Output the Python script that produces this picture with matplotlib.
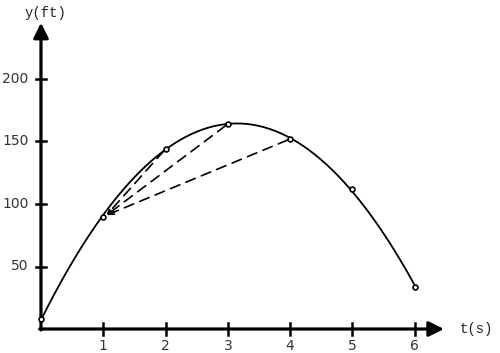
import numpy as np
import matplotlib
matplotlib.use("Agg")
import matplotlib.pyplot as plt

# height of the ball at each second
t = np.array([0, 1, 2, 3, 4, 5, 6])
y = np.array([8, 90, 144, 164, 152, 112, 34])

# secant lines from t=1 to these times
sec_from = 1
sec_to = [2, 3, 4]

xticks = [1, 2, 3, 4, 5, 6]
yticks = [50, 100, 150, 200]

fig = plt.figure(figsize=(5.0, 3.53), dpi=100)
ax = fig.add_axes([0, 0, 1, 1])
ax.set_xlim(-0.658, 7.37)
ax.set_ylim(-19.2, 263.2)
ax.axis("off")

# axes with arrow heads
arrow = dict(arrowstyle="-|>,head_length=0.9,head_width=0.45", lw=2.3,
             color="black", shrinkA=0, shrinkB=0)
ax.annotate("", xy=(6.47, 0), xytext=(-0.02, 0), arrowprops=arrow)
ax.annotate("", xy=(0, 245), xytext=(0, -0.8), arrowprops=arrow)

# ticks
for xt in xticks:
    ax.plot([xt, xt], [-5, 5], color="black", lw=1.8)
    ax.text(xt, -13.3, str(xt), ha="center", va="center", fontsize=10,
            family="DejaVu Sans", color="#333333")
for yt in yticks:
    ax.plot([-0.08, 0.08], [yt, yt], color="black", lw=1.8)
    ax.text(-0.2, yt, str(yt), ha="right", va="center", fontsize=10,
            family="DejaVu Sans", color="#333333")

ax.text(0.08, 253, "y(ft)", ha="center", va="center", fontsize=10,
        family="Liberation Mono", color="#222222")
ax.text(7.0, 0, "t(s)", ha="center", va="center", fontsize=10,
        family="Liberation Mono", color="#222222")

# smooth curve through the points (quadratic fit of the read values)
coef = np.polyfit(t, y, 2)
tt = np.linspace(t.min(), t.max(), 200)
ax.plot(tt, np.polyval(coef, tt), color="black", lw=1.3)
ax.plot(t, y, "o", ms=3.5, mfc="white", mec="black", mew=1.2, zorder=5)

# dashed secants with small arrow heads at t=1
i0 = list(t).index(sec_from)
for s in sec_to:
    j = list(t).index(s)
    ax.annotate("", xy=(t[i0] + 0.05, y[i0] + 1), xytext=(t[j], y[j]),
                arrowprops=dict(arrowstyle="->,head_length=0.4,head_width=0.15",
                                lw=1.2, ls=(0, (6, 4)), color="black",
                                shrinkA=2, shrinkB=0))

fig.savefig("out.png", dpi=100)
